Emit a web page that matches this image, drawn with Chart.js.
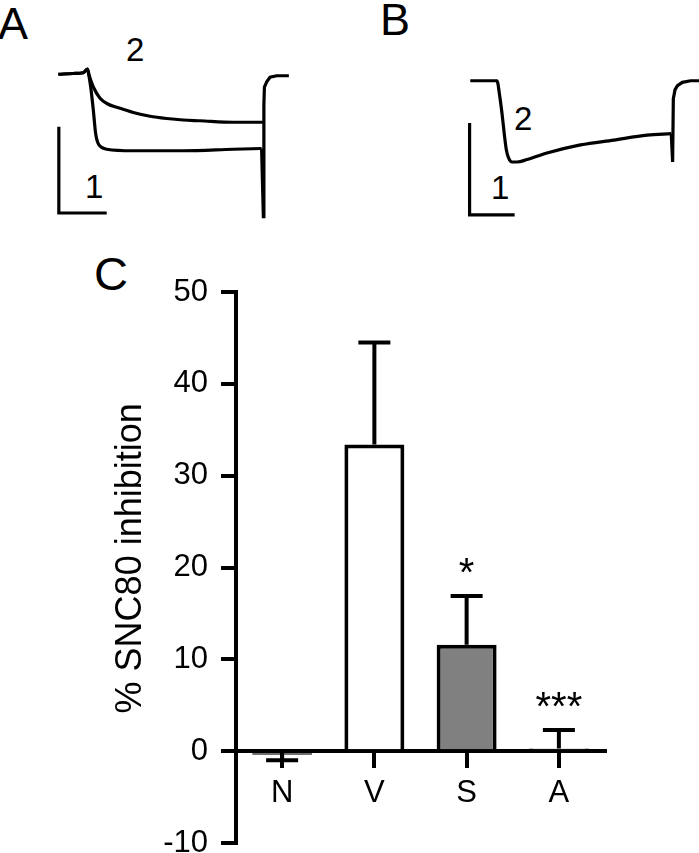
<!DOCTYPE html>
<html>
<head>
<meta charset="utf-8">
<script src="https://cdn.jsdelivr.net/npm/chart.js@4.4.1/dist/chart.umd.min.js"></script>
<style>
  html, body { margin: 0; padding: 0; background: #fff; overflow: hidden; }
  body { width: 699px; height: 853px; position: relative; font-family: "Liberation Sans", Arial, sans-serif; color: #000; }
  canvas, .lbl { position: absolute; }
  .lbl { line-height: 1; white-space: nowrap; }
  .panel { font-size: 45px; }
  .num { font-size: 33px; }
</style>
</head>
<body>
<div class="lbl panel" style="left:-2px;top:1px">A</div>
<div class="lbl panel" style="left:380px;top:-3px">B</div>
<div class="lbl panel" style="left:94px;top:250px;font-size:47px">C</div>
<div class="lbl num" style="left:126px;top:33px">2</div>
<div class="lbl num" style="left:85px;top:170px">1</div>
<div class="lbl num" style="left:514px;top:102px">2</div>
<div class="lbl num" style="left:491px;top:171px">1</div>

<canvas id="traceA" width="264" height="195" style="left:43px;top:45px"></canvas>
<canvas id="traceB" width="246" height="195" style="left:454px;top:45px"></canvas>
<canvas id="barC" width="560" height="640" style="left:100px;top:250px"></canvas>

<script>
// ---- panel A traces: time (ms from step on), current (fraction of trace 1 peak)
const baseA_t = [-16.3, -7.8, -2.1, 0.2];
const baseA_i = [0.01, 0.02, 0.03, 0.08];
const trace1A_t = [0.7, 2.1, 3.6, 4.9, 6.1, 8.0, 11.2, 26.3, 54.7, 83.1, 99.2];
const trace1A_i = [0.04, -0.16, -0.47, -0.78, -0.90, -0.96, -0.99, -1.01, -1.01, -0.99, -0.98];
const trace2A_t = [1.3, 3.6, 7.4, 12.1, 16.9, 26.3, 35.8, 45.3, 54.7, 64.2, 83.1, 99.2, 100.2];
const trace2A_i = [-0.01, -0.16, -0.31, -0.39, -0.43, -0.50, -0.55, -0.58, -0.60, -0.61, -0.63, -0.63, -0.63];
const tailA_t = [99.2, 100.2, 100.5, 100.8, 102.1, 104.0, 107.8, 114.7];
const tailA_i = [-0.98, -1.89, -0.40, -0.16, -0.09, -0.03, -0.01, -0.01];
const barA_t = [-16, -16, 11.2];
const barA_i = [-0.69, -1.84, -1.84];

// ---- panel B trace
const traceB_t = [-15.6, -0.2, 1.4, 2.7, 4.0, 5.2, 6.5, 8.5, 11.4, 17.2, 28.7, 48, 67.2, 86.5, 100.4];
const traceB_i = [0, 0, -0.19, -0.40, -0.65, -0.85, -0.95, -1.0, -1.0, -0.97, -0.89, -0.79, -0.73, -0.67, -0.65];
const tailB_t = [100.4, 101.2, 101.6, 102.6, 104.0, 106.8, 111.6, 117];
const tailB_i = [-0.65, -1.0, -0.22, -0.11, -0.06, -0.02, 0, 0];
const barB_t = [-16, -16, 10];
const barB_i = [-0.52, -1.65, -1.65];

// ---- panel C bars
const categories = ["N", "V", "S", "A"];
const means = [-0.4, 33.4, 11.6, 0.3];
const sems = [0.6, 11.1, 5.3, 2.0];
const stars = ["", "", "*", "***"];
const fills = ["#ffffff", "#ffffff", "#808080", "#ffffff"];
const yTicks = [-10, 0, 10, 20, 30, 40, 50];
const yTitle = "% SNC80 inhibition";

const FONT = '"Liberation Sans", Arial, sans-serif';

function pts(ts, is) {
  return ts.map((t, k) => ({ x: t, y: is[k] }));
}

function traceSet(data, smooth) {
  return {
    data: data,
    showLine: true,
    pointRadius: 0,
    borderColor: "#000",
    borderWidth: 3.2,
    borderCapStyle: "butt",
    borderJoinStyle: smooth ? "round" : "miter",
    cubicInterpolationMode: smooth ? "monotone" : "default",
    tension: 0,
    fill: false
  };
}

function traceChart(id, sets, xr, yr) {
  new Chart(document.getElementById(id), {
    type: "scatter",
    data: { datasets: sets },
    options: {
      responsive: false,
      animation: false,
      layout: { padding: 0 },
      plugins: { legend: { display: false }, tooltip: { enabled: false } },
      scales: {
        x: { type: "linear", min: xr[0], max: xr[1], display: false },
        y: { type: "linear", min: yr[0], max: yr[1], display: false }
      }
    }
  });
}

traceChart("traceA", [
  traceSet(pts(baseA_t.concat(trace1A_t), baseA_i.concat(trace1A_i)), true),
  traceSet(pts(baseA_t.concat(trace2A_t), baseA_i.concat(trace2A_i)), true),
  traceSet(pts(tailA_t, tailA_i), false),
  traceSet(pts(barA_t, barA_i), false)
], [-25, 125], [-2.2, 0.4]);

traceChart("traceB", [
  traceSet(pts(traceB_t, traceB_i), true),
  traceSet(pts(tailB_t, tailB_i), false),
  traceSet(pts(barB_t, barB_i), false)
], [-25, 117], [-1.96, 0.44]);

// error bars, significance marks and the y title
const errorBars = {
  id: "errorBars",
  afterDatasetsDraw(chart) {
    const ctx = chart.ctx;
    const y = chart.scales.y;
    const bars = chart.getDatasetMeta(0).data;
    ctx.save();
    ctx.strokeStyle = "#000";
    ctx.fillStyle = "#000";
    ctx.lineWidth = 4;
    bars.forEach((bar, i) => {
      const dir = means[i] < 0 ? -1 : 1;
      const y0 = y.getPixelForValue(means[i]);
      const y1 = y.getPixelForValue(means[i] + dir * sems[i]);
      ctx.beginPath();
      ctx.moveTo(bar.x, y0);
      ctx.lineTo(bar.x, y1);
      ctx.moveTo(bar.x - 16, y1);
      ctx.lineTo(bar.x + 16, y1);
      ctx.stroke();
      if (stars[i]) {
        ctx.font = "40px " + FONT;
        ctx.textAlign = "center";
        ctx.textBaseline = "alphabetic";
        ctx.fillText(stars[i], bar.x, y1 - 10);
      }
    });
    // axis title, a little above the middle of the axis as in the figure
    ctx.translate(31, y.getPixelForValue(21));
    ctx.rotate(-Math.PI / 2);
    ctx.font = "36px " + FONT;
    ctx.textAlign = "center";
    ctx.textBaseline = "middle";
    ctx.fillText(yTitle, 0, 0);
    ctx.restore();
  }
};

new Chart(document.getElementById("barC"), {
  type: "bar",
  data: {
    labels: categories,
    datasets: [{
      data: means,
      backgroundColor: fills,
      borderColor: "#000",
      borderWidth: 4,
      borderSkipped: (c) => (c.raw < 0 ? false : "start"),
      barPercentage: 0.65,
      categoryPercentage: 1
    }]
  },
  options: {
    responsive: false,
    animation: false,
    layout: { padding: { top: 42, right: 55, bottom: 47, left: 0 } },
    plugins: { legend: { display: false }, tooltip: { enabled: false } },
    scales: {
      x: {
        position: { y: 0 },
        offset: true,
        grid: { offset: false, drawOnChartArea: false, tickLength: 15, lineWidth: 4, color: "#000" },
        border: { width: 4, color: "#000" },
        ticks: { color: "#000", font: { family: FONT, size: 31 }, padding: 9 }
      },
      y: {
        min: -10,
        max: 50,
        afterFit: (s) => { s.width = 136; },
        afterBuildTicks: (s) => { s.ticks = yTicks.map(v => ({ value: v })); },
        grid: { drawOnChartArea: false, tickLength: 15, lineWidth: 4, color: "#000" },
        border: { width: 4, color: "#000" },
        ticks: { color: "#000", font: { family: FONT, size: 31 }, padding: 13 }
      }
    }
  },
  plugins: [errorBars]
});
</script>
</body>
</html>
